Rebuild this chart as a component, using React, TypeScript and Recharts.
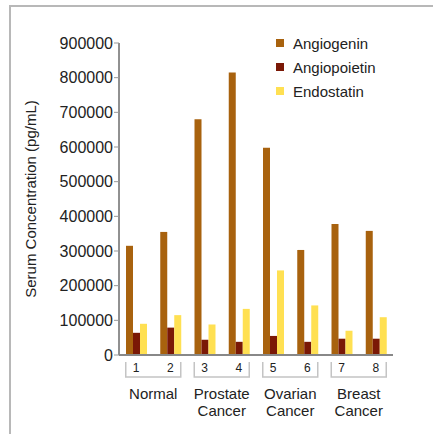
import React from 'react';
import { BarChart, Bar, XAxis, YAxis } from 'recharts';

const samples = ['1', '2', '3', '4', '5', '6', '7', '8'];
const groups = ['Normal', 'Normal', 'Prostate Cancer', 'Prostate Cancer', 'Ovarian Cancer', 'Ovarian Cancer', 'Breast Cancer', 'Breast Cancer'];
const angiogenin = [315000, 355000, 680000, 815000, 598000, 303000, 378000, 358000];
const angiopoietin = [64000, 79000, 44000, 38000, 55000, 38000, 47000, 47000];
const endostatin = [90000, 115000, 88000, 133000, 244000, 143000, 70000, 109000];
const yTicks = [0, 100000, 200000, 300000, 400000, 500000, 600000, 700000, 800000, 900000];

const series = [
  { key: 'angiogenin', name: 'Angiogenin', color: '#A8620E' },
  { key: 'angiopoietin', name: 'Angiopoietin', color: '#7A1806' },
  { key: 'endostatin', name: 'Endostatin', color: '#FFE052' },
];

const data = samples.map((s, i) => ({
  sample: s,
  group: groups[i],
  angiogenin: angiogenin[i],
  angiopoietin: angiopoietin[i],
  endostatin: endostatin[i],
}));

const FONT = '"Liberation Sans", Arial, sans-serif';

const SampleTick = (props: any) => {
  const { x, y, payload } = props;
  return (
    <text x={x} y={y + 17} textAnchor="middle" fontSize={12} fill="#222" fontFamily={FONT}>
      {payload.value}
    </text>
  );
};

const GroupTick = (props: any) => {
  const { x, y, payload } = props;
  const lines = String(payload.value).split(' ');
  const hw = 27.5;
  return (
    <g>
      <path
        d={`M${x - hw},${y - 13} V${y + 2} H${x + hw} V${y - 13}`}
        fill="none"
        stroke="#c4c4c4"
        strokeWidth={1.5}
      />
      {lines.map((l, i) => (
        <text key={i} x={x} y={y + 24 + i * 17} textAnchor="middle" fontSize={15} fill="#222" fontFamily={FONT}>
          {l}
        </text>
      ))}
    </g>
  );
};

export default function App() {
  return (
    <div style={{ position: 'absolute', left: 0, top: 0, width: 433, height: 434, overflow: 'hidden', background: '#fff' }}>
      <div
        style={{
          position: 'absolute',
          left: 9,
          top: 5,
          width: 500,
          height: 500,
          borderTop: '2px solid #b8b8b8',
          borderLeft: '2px solid #b8b8b8',
        }}
      />
      <div style={{ position: 'absolute', left: 0, top: 0 }}>
        <BarChart
          width={433}
          height={434}
          data={data}
          margin={{ top: 43, right: 40, bottom: 0, left: 0 }}
          barSize={7}
          barGap={0}
        >
          <YAxis
            width={119}
            domain={[0, 900000]}
            ticks={yTicks}
            interval={0}
            tickSize={5}
            tickMargin={1}
            tick={{ fontSize: 16, fill: '#222', fontFamily: FONT }}
            tickLine={{ stroke: '#999' }}
            axisLine={{ stroke: '#222' }}
            label={{
              value: 'Serum Concentration (pg/mL)',
              angle: -90,
              position: 'insideLeft',
              offset: 31,
              style: { textAnchor: 'middle', fontSize: 15, fill: '#222', fontFamily: FONT },
            }}
          />
          <XAxis
            dataKey="sample"
            height={20}
            tickSize={0}
            tickMargin={0}
            tickLine={false}
            axisLine={{ stroke: '#888', strokeWidth: 2 }}
            tick={<SampleTick />}
            interval={0}
          />
          <XAxis
            xAxisId="grp"
            dataKey="group"
            allowDuplicatedCategory={false}
            height={59}
            tickSize={0}
            tickMargin={0}
            tickLine={false}
            axisLine={false}
            tick={<GroupTick />}
            interval={0}
          />
          {series.map((s) => (
            <Bar key={s.key} dataKey={s.key} name={s.name} fill={s.color} isAnimationActive={false} />
          ))}
        </BarChart>
      </div>
      <div style={{ position: 'absolute', left: 276, top: 31, fontFamily: FONT, fontSize: 15, color: '#222' }}>
        {series.map((s) => (
          <div key={s.key} style={{ display: 'flex', alignItems: 'center', height: 24 }}>
            <span style={{ display: 'inline-block', width: 8, height: 8, background: s.color, marginRight: 9 }} />
            <span>{s.name}</span>
          </div>
        ))}
      </div>
    </div>
  );
}
